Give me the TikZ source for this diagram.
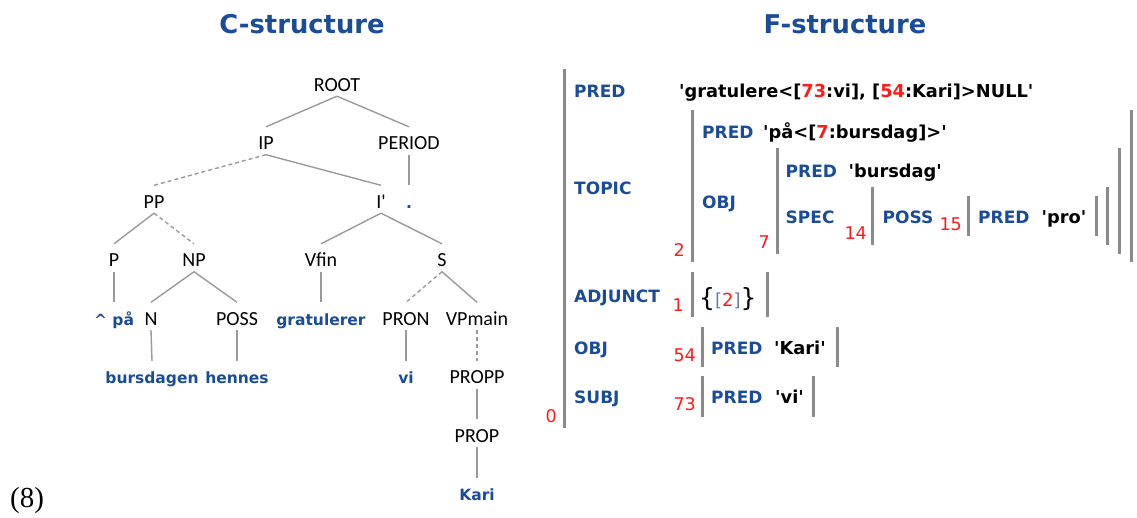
\documentclass[tikz,border=0pt]{standalone}
\usepackage{fontspec}
\newfontfamily\dvs{DejaVu Sans}[Ligatures=TeXOff]
\newfontfamily\carl{Carlito}[Ligatures=TeXOff]
\newfontfamily\tms{Liberation Serif}
\definecolor{fblue}{HTML}{1A4C9A}
\definecolor{fred}{HTML}{FF1A1A}
\definecolor{lgray}{HTML}{9A9A9A}
\definecolor{bgray}{HTML}{8A8A8A}
\definecolor{sqb}{HTML}{6A7FA0}
\tikzset{
 cat/.style={font=\carl\fontsize{20pt}{20pt}\selectfont, text height=17.5pt, text depth=0pt, inner xsep=0pt, inner ysep=5pt, anchor=base},
 wrd/.style={cat, font=\dvs\bfseries\fontsize{15.5pt}{18pt}\selectfont, text=fblue},
 treeline/.style={draw=lgray, line width=1.4pt},
 treedash/.style={treeline, dash pattern=on 4pt off 3pt},
 lab/.style={font=\dvs\bfseries\fontsize{17pt}{20pt}\selectfont, text=fblue, anchor=base west, inner sep=0pt},
 val/.style={lab, font=\dvs\bfseries\fontsize{17.8pt}{20pt}\selectfont, text=black},
 num/.style={font=\dvs\fontsize{17.5pt}{20pt}\selectfont, text=fred, anchor=base east, inner sep=0pt},
 brk/.style={draw=bgray, line width=3pt},
 ttl/.style={font=\dvs\bfseries\fontsize{25.8pt}{30pt}\selectfont, text=fblue, anchor=base, inner sep=0pt},
}
\begin{document}
\begin{tikzpicture}[x=1pt,y=-1pt]
\useasboundingbox (0,0) rectangle (1137,517);
% titles
\node[ttl] (tc) at (302,33) {C-structure};
\node[ttl] (tf) at (845,33) {F-structure};
% c-structure
\node[cat] (root) at (337,91) {ROOT};
\node[cat] (ip) at (266,149.5) {IP};
\node[cat] (period) at (409,149.5) {PERIOD};
\node[cat] (pp) at (154,208) {PP};
\node[cat] (ibar) at (381,208) {I'};
\node[wrd] (dot) at (409,208) {.};
\node[cat] (p) at (114,266.5) {P};
\node[cat] (np) at (194,266.5) {NP};
\node[cat] (vfin) at (321,266.5) {Vfin};
\node[cat] (s) at (442,266.5) {S};
\node[wrd] (paa) at (114,325) {\textasciicircum\ på};
\node[cat] (n) at (151,325) {N};
\node[cat] (poss) at (237,325) {POSS};
\node[wrd] (grat) at (321,325) {gratulerer};
\node[cat] (pron) at (406,325) {PRON};
\node[cat] (vpmain) at (477,325) {VPmain};
\node[wrd] (burs) at (152,383.5) {bursdagen};
\node[wrd] (hennes) at (237,383.5) {hennes};
\node[wrd] (vi) at (406,383.5) {vi};
\node[cat] (propp) at (477,383.5) {PROPP};
\node[cat] (prop) at (477,442) {PROP};
\node[wrd] (kari) at (477,500.5) {Kari};
\draw[treeline] (root.south) -- (ip.north);
\draw[treeline] (root.south) -- (period.north);
\draw[treedash] (ip.south) -- (pp.north);
\draw[treeline] (ip.south) -- (ibar.north);
\draw[treeline] (period.south) -- (dot.north);
\draw[treeline] (pp.south) -- (p.north);
\draw[treedash] (pp.south) -- (np.north);
\draw[treeline] (ibar.south) -- (vfin.north);
\draw[treeline] (ibar.south) -- (s.north);
\draw[treeline] (p.south) -- (paa.north);
\draw[treeline] (np.south) -- (n.north);
\draw[treeline] (np.south) -- (poss.north);
\draw[treeline] (vfin.south) -- (grat.north);
\draw[treedash] (s.south) -- (pron.north);
\draw[treeline] (s.south) -- (vpmain.north);
\draw[treeline] (n.south) -- (burs.north);
\draw[treeline] (poss.south) -- (hennes.north);
\draw[treeline] (pron.south) -- (vi.north);
\draw[treedash] (vpmain.south) -- (propp.north);
\draw[treeline] (propp.south) -- (prop.north);
\draw[treeline] (prop.south) -- (kari.north);
% example number
\node[font=\tms\fontsize{29pt}{30pt}\selectfont, anchor=base west, inner sep=0pt] (exnum) at (10,507) {(8)};
% f-structure brackets
\draw[brk] (564,69) -- (564,428);
\draw[brk] (692,110) -- (692,262);
\draw[brk] (1131,110) -- (1131,262);
\draw[brk] (777,148) -- (777,254);
\draw[brk] (1119,148) -- (1119,254);
\draw[brk] (872.5,187) -- (872.5,245);
\draw[brk] (1107,187) -- (1107,245);
\draw[brk] (968,196) -- (968,236);
\draw[brk] (1096,196) -- (1096,236);
\draw[brk] (692,272) -- (692,317);
\draw[brk] (767,272) -- (767,317);
\draw[brk] (702,327) -- (702,367);
\draw[brk] (837,327) -- (837,367);
\draw[brk] (702,376) -- (702,417);
\draw[brk] (813,376) -- (813,417);
% f-structure labels
\node[lab] (l1) at (574,97) {PRED};
\node[val] (v1) at (679,97) {'gratulere<[\textcolor{fred}{73}:vi], [\textcolor{fred}{54}:Kari]>NULL'};
\node[lab] (l2) at (574,194) {TOPIC};
\node[lab] (l3) at (702,138) {PRED};
\node[val] (v3) at (763,138) {'på<[\textcolor{fred}{7}:bursdag]>'};
\node[lab] (l4) at (702,208) {OBJ};
\node[lab] (l5) at (785.5,177) {PRED};
\node[val] (v5) at (848.5,177) {'bursdag'};
\node[lab] (l6) at (785.5,223) {SPEC};
\node[lab] (l7) at (882.5,223) {POSS};
\node[lab] (l8) at (978,223) {PRED};
\node[val] (v8) at (1041.5,223) {'pro'};
\node[lab] (l9) at (574,302) {ADJUNCT};
\node[anchor=base west, inner sep=0pt, font=\dvs\fontsize{18pt}{20pt}\selectfont] (v9) at (699,306)
  {{\fontsize{25pt}{25pt}\selectfont\{}\textcolor{sqb}{[}\textcolor{fred}{2}\textcolor{sqb}{]}{\fontsize{25pt}{25pt}\selectfont\}}};
\node[lab] (l10) at (574,354) {OBJ};
\node[lab] (l11) at (711,354) {PRED};
\node[val] (v11) at (774,354) {'Kari'};
\node[lab] (l12) at (574,403) {SUBJ};
\node[lab] (l13) at (711,403) {PRED};
\node[val] (v13) at (775,403) {'vi'};
% index numbers
\node[num] (n0) at (557,422) {0};
\node[num] (n2) at (685,256) {2};
\node[num] (n7) at (770,248) {7};
\node[num] (n14) at (867,239) {14};
\node[num] (n15) at (962,230) {15};
\node[num] (n1) at (684,311) {1};
\node[num] (n54) at (696,361) {54};
\node[num] (n73) at (696,410) {73};
\end{tikzpicture}
\end{document}
